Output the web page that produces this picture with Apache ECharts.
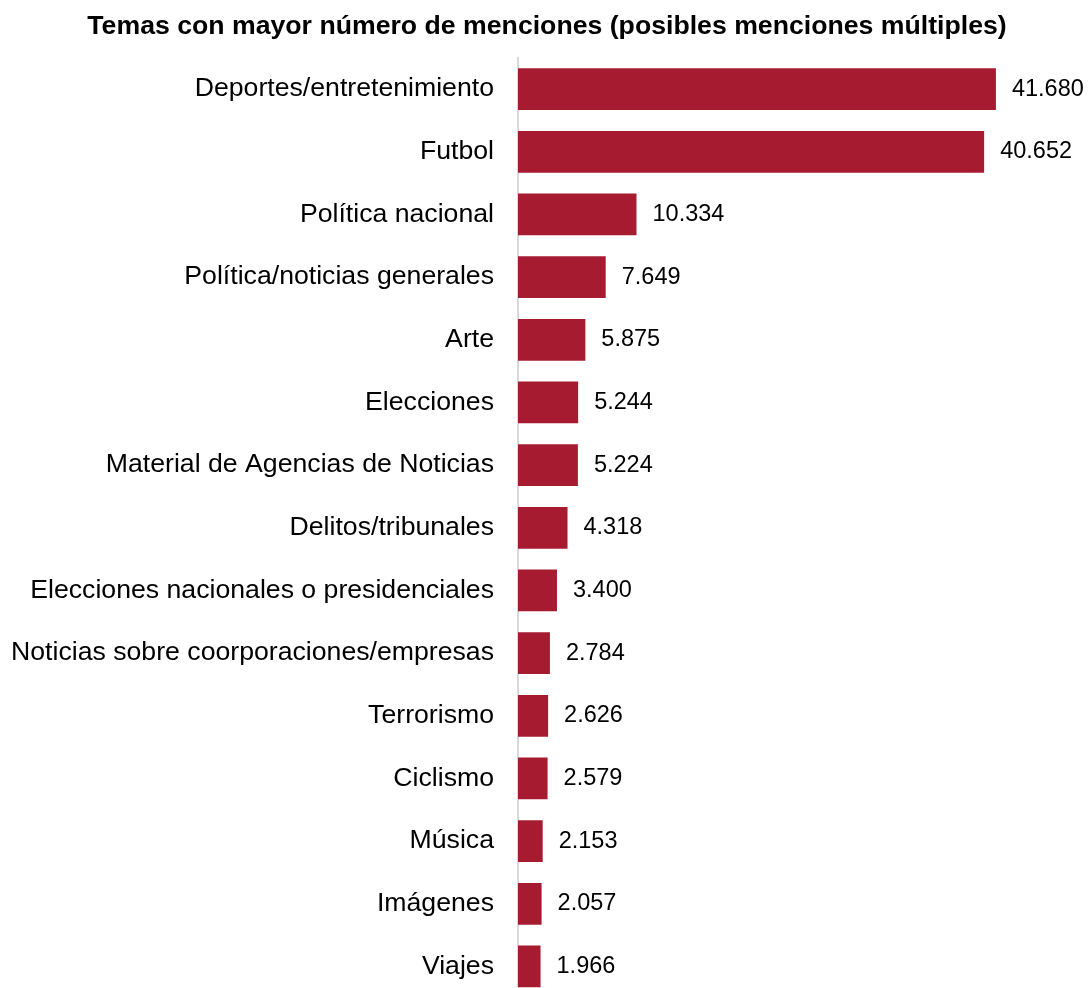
<!DOCTYPE html>
<html><head><meta charset="utf-8">
<script src="https://cdn.jsdelivr.net/npm/echarts@6/dist/echarts.min.js"></script>
<style>html,body{margin:0;padding:0;background:#fff;overflow:hidden}#c{width:1088px;height:1010px}</style>
</head><body><div id="c"></div>
<script>
const categories = ["Deportes/entretenimiento","Futbol","Política nacional","Política/noticias generales","Arte","Elecciones","Material de Agencias de Noticias","Delitos/tribunales","Elecciones nacionales o presidenciales","Noticias sobre coorporaciones/empresas","Terrorismo","Ciclismo","Música","Imágenes","Viajes"];
const values = [41680,40652,10334,7649,5875,5244,5224,4318,3400,2784,2626,2579,2153,2057,1966];
const fmt = v => String(v).replace(/\B(?=(\d{3})+(?!\d))/g, ".");
const chart = echarts.init(document.getElementById('c'));
chart.setOption({
  animation:false,
  title:{text:"Temas con mayor número de menciones (posibles menciones múltiples)",left:542,top:8,textAlign:'center',
    textStyle:{fontFamily:"Liberation Sans, Arial",fontWeight:'bold',fontSize:26.67,color:'#000'}},
  grid:{left:518,top:57.8,width:516,height:940,containLabel:false},
  xAxis:{type:'value',min:0,max:45000,show:false},
  yAxis:{type:'category',inverse:true,data:categories,
    axisLine:{show:true,lineStyle:{color:'#d9d9d9',width:2}},axisTick:{show:false},
    axisLabel:{margin:24,fontFamily:"Liberation Sans, Arial",fontSize:26.67,color:'#000'}},
  series:[{type:'bar',data:values,barWidth:41.7,itemStyle:{color:'#a61b30'},
    label:{show:true,position:'right',distance:16,formatter:p=>fmt(p.value),
      fontFamily:"Liberation Sans, Arial",fontSize:23.5,color:'#000'}}]
});
</script></body></html>
